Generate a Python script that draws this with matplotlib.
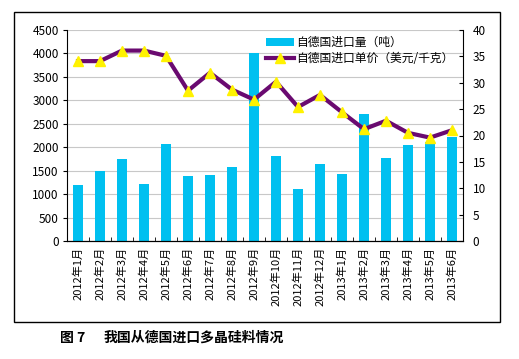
import matplotlib
matplotlib.use("Agg")
import matplotlib.pyplot as plt
from matplotlib.patches import Rectangle
import numpy as np

plt.rcParams['font.family'] = ['Noto Sans CJK SC', 'DejaVu Sans']

months = ["2012年1月", "2012年2月", "2012年3月", "2012年4月", "2012年5月", "2012年6月",
          "2012年7月", "2012年8月", "2012年9月", "2012年10月", "2012年11月", "2012年12月",
          "2013年1月", "2013年2月", "2013年3月", "2013年4月", "2013年5月", "2013年6月"]
volume = [1200, 1500, 1740, 1220, 2060, 1380, 1400, 1570, 4000,
          1820, 1110, 1650, 1420, 2710, 1780, 2040, 2110, 2220]
price = [34.1, 34.1, 36.1, 36.1, 35.1, 28.5, 31.9, 28.7, 26.8,
         30.2, 25.4, 27.7, 24.4, 21.2, 22.8, 20.5, 19.6, 21.0]
left_ticks = [0, 500, 1000, 1500, 2000, 2500, 3000, 3500, 4000, 4500]
right_ticks = [0, 5, 10, 15, 20, 25, 30, 35, 40]
bar_label = "自德国进口量（吨）"
line_label = "自德国进口单价（美元/千克）"
caption_num = "图 7"
caption = "我国从德国进口多晶硅料情况"

W, H = 519, 359
fig = plt.figure(figsize=(W / 100, H / 100), dpi=100)
ax = fig.add_axes([67 / W, 1 - 241 / H, (463 - 67) / W, (241 - 30) / H])

x = np.arange(len(months))
ax.bar(x, volume, width=0.45, color="#00C0F0", zorder=2, label=bar_label)
ax.set_xlim(-0.5, len(months) - 0.5)
ax.set_ylim(0, 4500)
ax.set_yticks(left_ticks)
ax.yaxis.grid(True, color="#c8c8c8", lw=0.8, zorder=0)
ax.set_axisbelow(True)
ax.set_xticks(x)
ax.set_xticklabels(months, rotation=90, fontsize=8)
ax.set_xticks(np.arange(-0.5, len(months), 1), minor=True)
ax.tick_params(axis='x', which='major', length=0, pad=4)
ax.tick_params(axis='x', which='minor', length=3, direction='in')
ax.tick_params(axis='y', labelsize=8.5, length=3, direction='out', pad=3)
ax.spines["top"].set_visible(False)
ax.spines["right"].set_visible(False)

ax2 = ax.twinx()
ax2.plot(x, price, color="#6A0A70", lw=3, marker="^", markersize=7,
         markerfacecolor="#FFF200", markeredgecolor="#FFF200", zorder=3, label=line_label)
ax2.set_ylim(0, 40)
ax2.set_yticks(right_ticks)
ax2.tick_params(axis='y', labelsize=8.5, length=3, direction='in', pad=7)
ax2.spines["top"].set_visible(False)
ax2.spines["left"].set_visible(False)

h1, l1 = ax.get_legend_handles_labels()
h2, l2 = ax2.get_legend_handles_labels()
leg = ax2.legend(h1 + h2, l1 + l2, loc="upper right", bbox_to_anchor=(0.99, 1.0),
                 frameon=False, fontsize=8.5, handlelength=2.4, handletextpad=0.15,
                 labelspacing=0.25, borderaxespad=0.1)

# outer frame
fig.patches.append(Rectangle((14 / W, 1 - 322 / H), (500 - 14) / W, (322 - 12) / H,
                             transform=fig.transFigure, fill=False, edgecolor="black", lw=1))

fig.text(60 / W, 1 - 338 / H, caption_num, fontsize=10, fontweight="bold", va="center", ha="left")
fig.text(104 / W, 1 - 338 / H, caption, fontsize=10, fontweight="bold", va="center", ha="left")

fig.savefig("out.png", dpi=100)
